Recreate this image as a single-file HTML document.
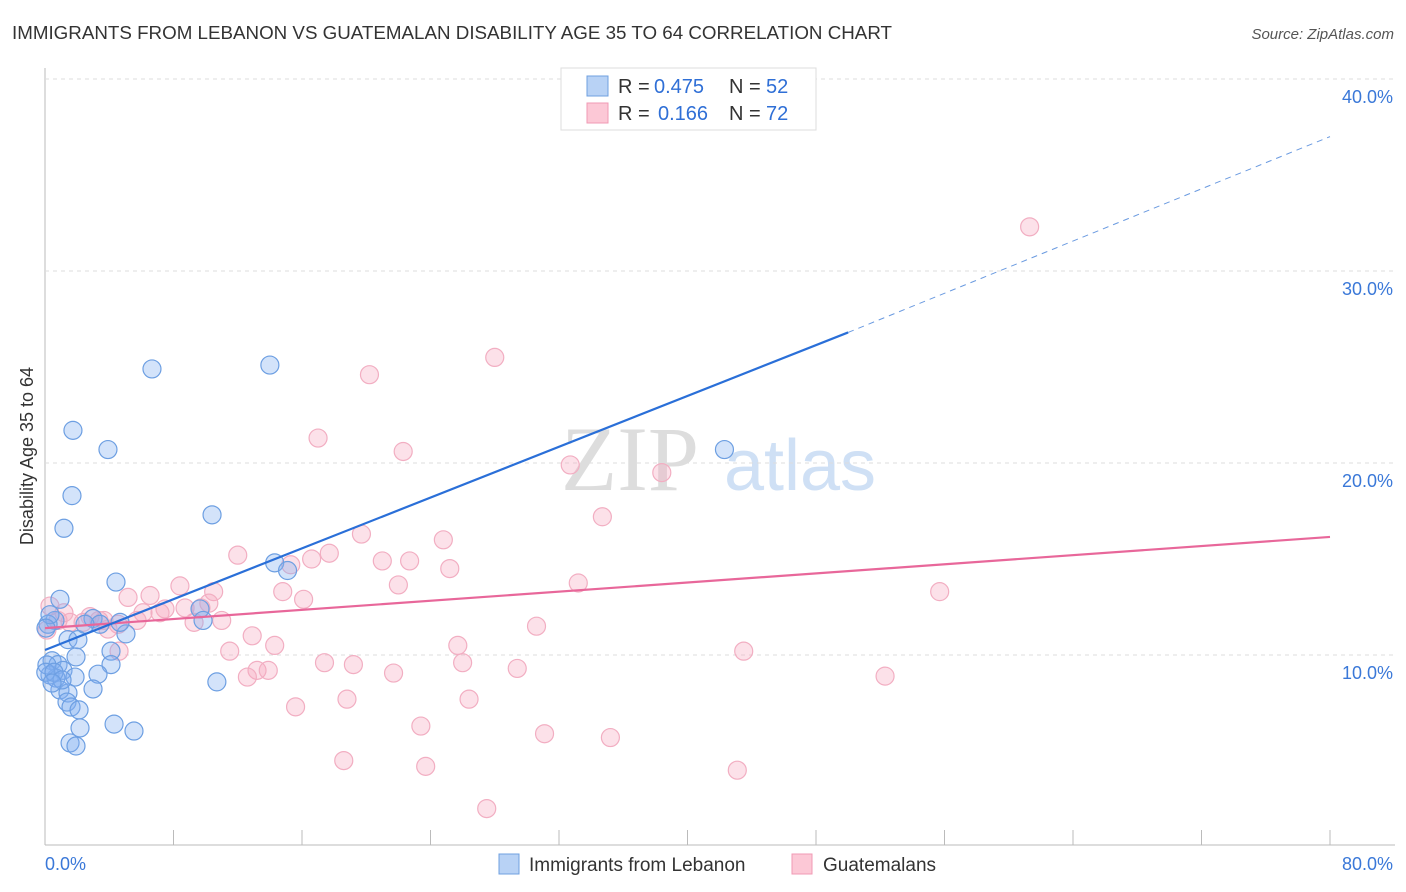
<!DOCTYPE html>
<html><head><meta charset="utf-8"><style>
body{margin:0;background:#fff;font-family:"Liberation Sans",sans-serif}
svg{display:block}
</style></head><body>
<svg id="chart" width="1406" height="892">
<text x="12" y="39" font-size="18" fill="#333" textLength="880" lengthAdjust="spacingAndGlyphs">IMMIGRANTS FROM LEBANON VS GUATEMALAN DISABILITY AGE 35 TO 64 CORRELATION CHART</text>
<text x="1394" y="39" font-size="15" fill="#555" font-style="italic" text-anchor="end">Source: ZipAtlas.com</text>
<text x="33" y="456" font-size="18" fill="#333" text-anchor="middle" transform="rotate(-90 33 456)">Disability Age 35 to 64</text>
<g><text x="630" y="490" font-size="92" font-family="Liberation Serif,serif" fill="#ddd" text-anchor="middle">ZIP</text><text x="800" y="490" font-size="72" fill="#cfe0f5" text-anchor="middle">atlas</text></g>
<g id="grid"></g><g id="marks"></g>
<g>
<rect x="561" y="68" width="255" height="62" fill="#fff" stroke="#ddd"/>
<rect x="587" y="76" width="21" height="20" fill="#b8d2f5" stroke="#6fa0e0"/>
<rect x="587" y="103" width="21" height="20" fill="#fcc8d6" stroke="#f09ab4"/>
<text x="618" y="93" font-size="20" fill="#333">R =</text><text x="654" y="93" font-size="20" fill="#2f6fd6">0.475</text>
<text x="729" y="93" font-size="20" fill="#333">N =</text><text x="766" y="93" font-size="20" fill="#2f6fd6">52</text>
<text x="618" y="120" font-size="20" fill="#333">R =</text><text x="658" y="120" font-size="20" fill="#2f6fd6">0.166</text>
<text x="729" y="120" font-size="20" fill="#333">N =</text><text x="766" y="120" font-size="20" fill="#2f6fd6">72</text>
</g>
<g>
<rect x="499" y="854" width="20" height="20" fill="#b8d2f5" stroke="#6fa0e0"/>
<text x="529" y="871" font-size="19" fill="#333">Immigrants from Lebanon</text>
<rect x="792" y="854" width="20" height="20" fill="#fcc8d6" stroke="#f09ab4"/>
<text x="823" y="871" font-size="19" fill="#333">Guatemalans</text>
</g>
</svg>
<script>
const yTicks=[10,20,30,40];
const yTickLabels=["10.0%","20.0%","30.0%","40.0%"];
const xTickCount=[0,8,16,24,32,40,48,56,64,72,80];
const blueX=[6.66,14.0,1.74,3.92,1.68,1.18,10.4,42.3,14.3,15.1,4.42,0.93,9.65,9.84,2.99,3.42,5.04,0.62,0.19,1.43,2.05,4.11,0.44,0.81,1.93,4.11,1.12,1.87,0.31,0.68,3.30,10.7,2.99,0.93,1.43,1.37,1.62,2.12,2.18,4.30,5.54,1.56,1.93,0.12,0.05,0.56,1.06,0.31,0.06,0.44,2.49,4.67];
const blueY=[24.9,25.1,21.7,20.7,18.3,16.6,17.3,20.7,14.8,14.4,13.8,12.9,12.4,11.8,11.9,11.6,11.1,11.8,11.6,10.8,10.8,10.2,9.7,9.5,9.9,9.5,9.2,8.85,8.96,8.8,9.0,8.6,8.23,8.18,8.02,7.55,7.29,7.14,6.2,6.4,6.04,5.42,5.26,9.48,9.1,9.1,8.7,12.1,11.4,8.54,11.6,11.7];
const pinkX=[61.3,28.0,20.2,17.0,22.3,32.7,38.4,34.7,19.7,24.8,12.0,17.7,16.6,15.3,21.0,22.7,25.2,8.4,33.2,22.0,10.5,14.8,16.1,55.7,6.54,5.17,7.47,6.10,8.72,10.2,9.71,7.16,11.0,9.28,5.73,4.55,3.92,2.80,1.56,1.18,0.31,0.12,2.37,3.67,30.6,12.9,25.7,14.3,11.5,4.61,43.5,17.4,19.2,26.0,29.4,13.2,13.9,12.6,21.7,52.3,18.8,26.4,15.6,23.4,31.1,35.2,18.6,23.7,43.1,27.5,0.81,3.36];
const pinkY=[32.3,25.5,24.6,21.3,20.6,19.9,19.5,17.2,16.3,16.0,15.2,15.3,15.0,14.7,14.9,14.9,14.5,13.6,13.75,13.65,13.3,13.3,12.9,13.3,13.1,13.0,12.4,12.2,12.45,12.7,12.45,12.2,11.8,11.7,11.8,11.6,11.35,12.0,11.7,12.2,12.55,11.3,11.7,11.8,11.5,11.0,10.5,10.5,10.2,10.2,10.2,9.6,9.5,9.6,9.3,9.2,9.2,8.85,9.06,8.9,7.7,7.7,7.3,6.3,5.9,5.7,4.5,4.2,4.0,2.0,11.8,11.8];
const blueTrend=[10.26,26.8,37.0];
const blueSolidEnd=50;
const pinkTrend=[11.4,16.15];
const NS="http://www.w3.org/2000/svg";
const X=v=>45+v*(1285/80), Y=v=>847-v*19.2;
const grid=document.getElementById('grid'), marks=document.getElementById('marks');
function mk(tag,attrs,parent){const e=document.createElementNS(NS,tag);for(const k in attrs)e.setAttribute(k,attrs[k]);parent.appendChild(e);return e;}
let e=mk('line',{x1:45,y1:68,x2:45,y2:845,stroke:'#bbb'},grid);


e=mk('line',{x1:45,y1:845,x2:1395,y2:845,stroke:'#bbb'},grid);


yTicks.forEach((t,i)=>{
 let g=mk('line',{x1:45,y1:Y(t),x2:1395,y2:Y(t),stroke:'#ddd','stroke-dasharray':'4,4'},grid);
 
 
 let l=mk('text',{x:1393,y:Y(t)+24,'font-size':18,fill:'#3a78d8','text-anchor':'end'},grid);
 l.textContent=yTickLabels[i];
 
 
});
xTickCount.forEach(t=>{
 let tk=mk('line',{x1:X(t),y1:830,x2:X(t),y2:845,stroke:'#bbb'},grid);
 
 
});
let xl=mk('text',{x:45,y:870,'font-size':18,fill:'#3a78d8'},grid);xl.textContent='0.0%';


xl=mk('text',{x:1393,y:870,'font-size':18,fill:'#3a78d8','text-anchor':'end'},grid);xl.textContent='80.0%';


pinkX.forEach((v,i)=>{
 const c=mk('circle',{cx:X(v),cy:Y(pinkY[i]),r:9,fill:'rgba(246,170,192,0.35)',stroke:'#f2aec2','stroke-width':1.2},marks);
 
 
});
blueX.forEach((v,i)=>{
 const c=mk('circle',{cx:X(v),cy:Y(blueY[i]),r:9,fill:'rgba(130,176,240,0.35)',stroke:'#6d9fe2','stroke-width':1.2},marks);
 
 
});
let tl=mk('line',{x1:X(0),y1:Y(pinkTrend[0]),x2:X(80),y2:Y(pinkTrend[1]),stroke:'#e8679a','stroke-width':2.2},marks);


tl=mk('line',{x1:X(0),y1:Y(blueTrend[0]),x2:X(blueSolidEnd),y2:Y(blueTrend[1]),stroke:'#2a6fd8','stroke-width':2.2},marks);


tl=mk('line',{x1:X(blueSolidEnd),y1:Y(blueTrend[1]),x2:X(80),y2:Y(blueTrend[2]),stroke:'#6a9ae0','stroke-width':1,'stroke-dasharray':'6,5'},marks);


</script>
</body></html>
